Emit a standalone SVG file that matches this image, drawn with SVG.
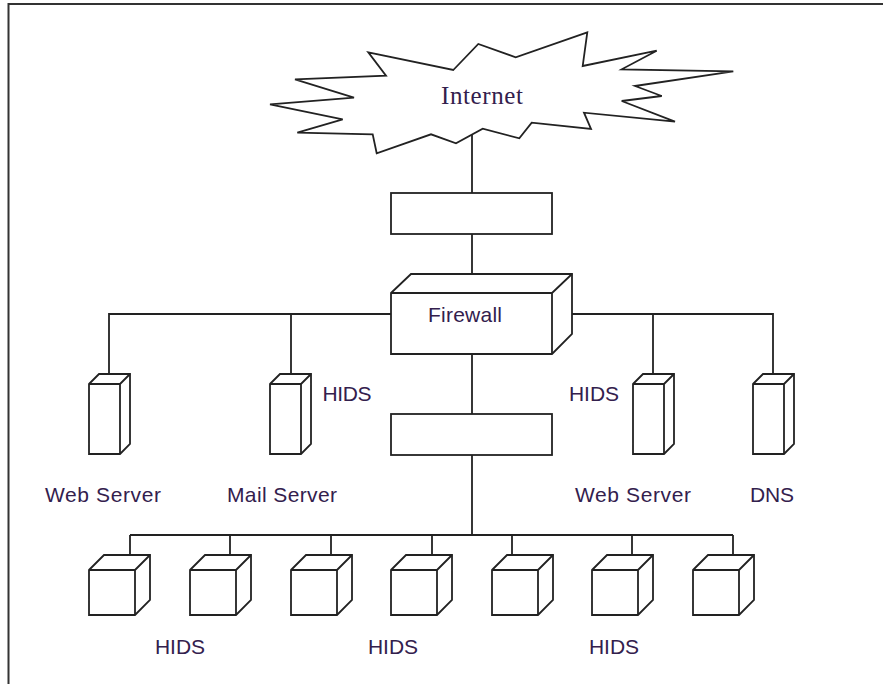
<svg xmlns="http://www.w3.org/2000/svg" width="883" height="684" viewBox="0 0 883 684">
<style>
.s{fill:#fff;stroke:#222;stroke-width:1.8;stroke-linejoin:miter}
.c{fill:none;stroke:#222;stroke-width:1.8}
.a{font-family:"Liberation Sans",Arial,sans-serif;font-size:21px;fill:#33204d;text-anchor:middle}
.t{font-family:"Liberation Serif","Times New Roman",serif;font-size:25px;fill:#33204d;text-anchor:middle}
</style>
<defs>
<g id="server"><path class="s" d="M0 10L10 0H41V70L31 80H0Z"/><path class="c" d="M0 10H31V80M31 10L41 0"/></g>
<g id="cube"><path class="s" d="M0 15L15 0H61V45L46 60H0Z"/><path class="c" d="M0 15H46V60M46 15L61 0"/></g>
</defs>
<rect id="frame" x="8.5" y="4" width="890" height="700" fill="#fff" stroke="#333" stroke-width="2"/>
<g id="connectors">
<path class="c" d="M472 134V193M472 234V274M472 354V414M472 455V535M130 535H733M130 535V555M230 535V555M331 535V555M432 535V555M512 535V555M632 535V555M733 535V555"/>
<path class="c" d="M391 314H109V374M291 314V374M572 314H773V374M653 314V374"/>
</g>
<g id="internet"><polygon class="s" points="453.3,70 478.3,44 515.7,57.3 587.3,32.3 582.7,66 656.7,50.7 621.7,69.3 733.3,71.3 635,86 661.7,96 621.7,101 675,121.7 584,112.7 591,129 531.7,122.7 519.3,138.3 482.7,128.7 456,143.3 431,134.3 376.7,153.3 372.7,134.3 297.3,132.7 342.7,119.3 270,104.3 354,97.7 295,79.3 386,75.7 368.3,52.3"/><text class="t" x="482" y="104" textLength="82">Internet</text></g>
<g id="box-top"><rect class="s" x="391" y="193" width="161" height="41"/></g>
<g id="firewall"><path class="s" d="M391 293L411 274H572V334L552 354H391Z"/><path class="c" d="M391 293H552V354M552 293L572 274"/><text class="a" x="465" y="321.500" textLength="74">Firewall</text></g>
<g id="box-mid"><rect class="s" x="391" y="414" width="161" height="41"/></g>
<use id="srv1" href="#server" x="89" y="374"/>
<use id="srv2" href="#server" x="270" y="374"/>
<use id="srv3" href="#server" x="633" y="374"/>
<use id="srv4" href="#server" x="753" y="374"/>
<use id="c1" href="#cube" x="89" y="555"/>
<use id="c2" href="#cube" x="190" y="555"/>
<use id="c3" href="#cube" x="291" y="555"/>
<use id="c4" href="#cube" x="391" y="555"/>
<use id="c5" href="#cube" x="492" y="555"/>
<use id="c6" href="#cube" x="592" y="555"/>
<use id="c7" href="#cube" x="693" y="555"/>
<g id="labels">
<text class="a" x="103" y="502" textLength="116">Web Server</text>
<text class="a" x="282" y="502" textLength="110">Mail Server</text>
<text class="a" x="633" y="502" textLength="116">Web Server</text>
<text class="a" x="772" y="502" textLength="44">DNS</text>
<text class="a" x="347" y="401" textLength="49">HIDS</text>
<text class="a" x="594" y="401" textLength="50">HIDS</text>
<text class="a" x="180" y="654" textLength="50">HIDS</text>
<text class="a" x="393" y="654" textLength="50">HIDS</text>
<text class="a" x="614" y="654" textLength="50">HIDS</text>
</g>
</svg>
